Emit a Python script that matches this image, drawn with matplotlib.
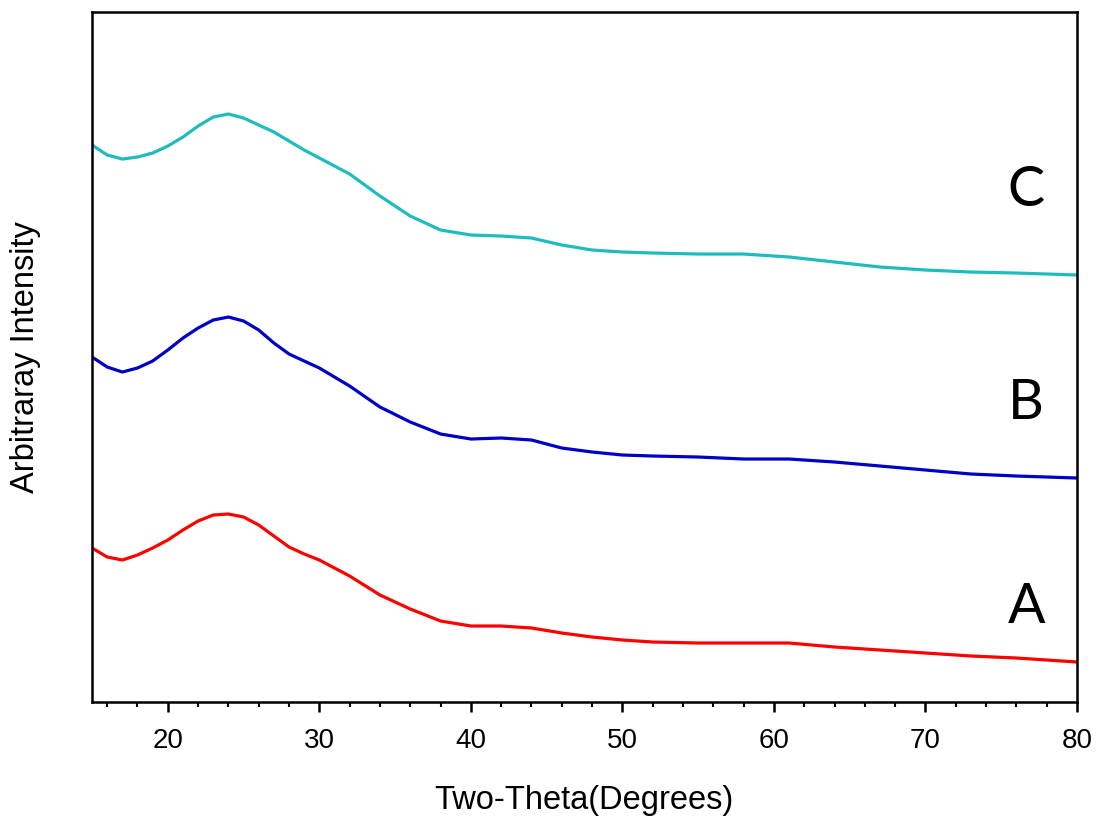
import matplotlib
matplotlib.use("Agg")
import matplotlib.pyplot as plt
from matplotlib.ticker import MultipleLocator

# two-theta positions (degrees) where the traces were read
two_theta = [15, 16, 17, 18, 19, 20, 21, 22, 23, 24, 25, 26, 27, 28, 29, 30,
             32, 34, 36, 38, 40, 42, 44, 46, 48, 50, 52, 55, 58, 61, 64, 67,
             70, 73, 76, 80]

# arbitrary intensity (stacked / offset as in the original)
sample_a = [154, 145, 142, 147, 154, 162, 172, 181, 187, 188, 185, 177, 166,
            155, 148, 142, 126, 107, 93, 81, 76, 76, 74, 69, 65, 62, 60, 59,
            59, 59, 55, 52, 49, 46, 44, 40]
sample_b = [345, 335, 330, 334, 341, 352, 364, 374, 382, 385, 381, 372, 359,
            348, 341, 334, 316, 295, 280, 268, 263, 264, 262, 254, 250, 247,
            246, 245, 243, 243, 240, 236, 232, 228, 226, 224]
sample_c = [557, 547, 543, 545, 549, 556, 565, 576, 585, 588, 584, 577, 570,
            561, 552, 544, 528, 506, 486, 472, 467, 466, 464, 457, 452, 450,
            449, 448, 448, 445, 440, 435, 432, 430, 429, 427]

labels = ["A", "B", "C"]
label_pos = [(76.7, 95), (76.6, 299), (76.6, 512)]

fig = plt.figure(figsize=(10.97, 8.18), dpi=100)
ax = fig.add_axes([0.0839, 0.1418, 0.8979, 0.8435])

ax.plot(two_theta, sample_a, color="#ff0000", lw=2.3)
ax.plot(two_theta, sample_b, color="#0000c8", lw=2.3)
ax.plot(two_theta, sample_c, color="#1fbcbc", lw=2.3)

for lab, (x, y) in zip(labels, label_pos):
    ax.text(x, y, lab, fontsize=40, family="Lato", ha="center", va="center")

ax.set_xlim(15, 80)
ax.set_ylim(0, 690)
ax.xaxis.set_major_locator(MultipleLocator(10))
ax.xaxis.set_minor_locator(MultipleLocator(2))
ax.set_yticks([])
ax.tick_params(axis="x", which="major", direction="out", length=7, width=1.8,
               labelsize=20, pad=12)
ax.tick_params(axis="x", which="minor", direction="out", length=3.5, width=1.5)
for lbl in ax.get_xticklabels():
    lbl.set_family("Liberation Sans")
for sp in ax.spines.values():
    sp.set_linewidth(1.8)

ax.set_xlabel("Two-Theta(Degrees)", fontsize=23.5, family="Liberation Sans")
ax.set_ylabel("Arbitraray Intensity", fontsize=23.5, family="Liberation Sans")
ax.xaxis.set_label_coords(0.4995, -0.12)
ax.yaxis.set_label_coords(-0.052, 0.5)

fig.savefig("out.png", dpi=100)
